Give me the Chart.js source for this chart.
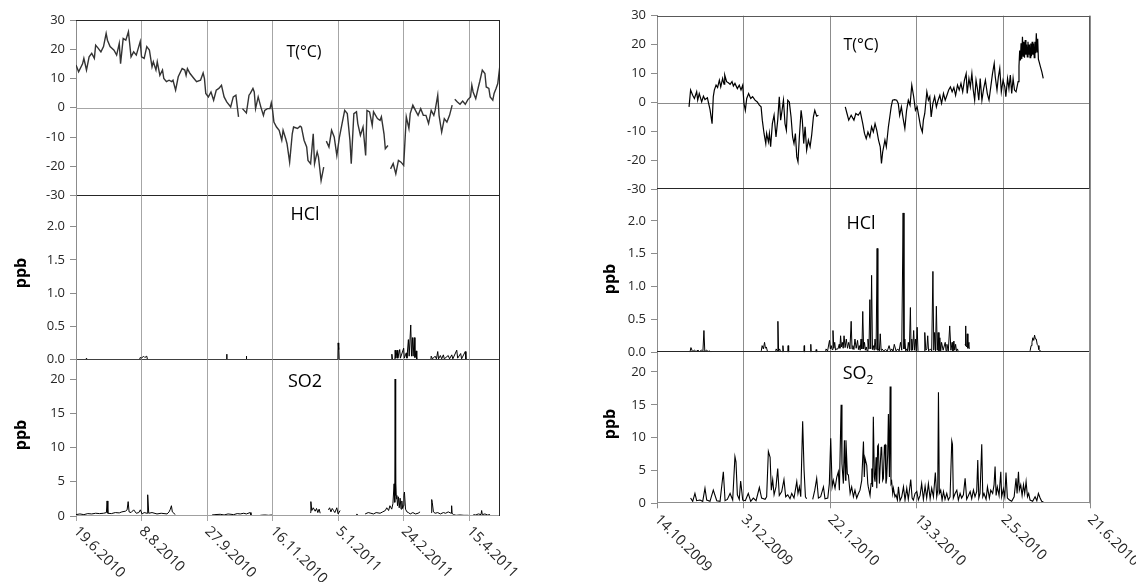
<!DOCTYPE html>
<html><head><meta charset="utf-8">
<script src="https://cdn.jsdelivr.net/npm/chart.js@4.4.0/dist/chart.umd.min.js"></script>
<style>
html,body{margin:0;padding:0;background:#fff;}
#wrap{position:relative;width:1136px;height:582px;overflow:hidden;background:#fff;}
canvas{position:absolute;}
</style></head><body><div id="wrap"></div>
<script>
// ---------------- DATA ----------------
// x values are days since the first tick date of each panel
const leftXLabels = ['19.6.2010','8.8.2010','27.9.2010','16.11.2010','5.1.2011','24.2.2011','15.4.2011'];
const leftXTicks = [0,50,100,150,200,250,300];
const rightXLabels = ['14.10.2009','3.12.2009','22.1.2010','13.3.2010','2.5.2010','21.6.2010'];
const rightXTicks = [0,50,100,150,200,250];
const tTicks = [-30,-20,-10,0,10,20,30];
const hclTicks = [0,0.5,1,1.5,2];
const so2Ticks = [0,5,10,15,20];

const leftT = [[0,14.6],[2,12.3],[5,15],[6,16.9],[8,12.9],[10,17.4],[12,18.6],[14,16.9],[15,21.4],[17,20.3],
[19,19.1],[21,20.9],[23,25.4],[24,23.1],[26,20.9],[29,19.7],[31,18],[33,22],[34,15.1],[36,23.7],
[38,23.1],[40,26],[42,17.4],[44,19.1],[46,18],[49,22.6],[50,17.4],[52,16.9],[54,20.9],[56,19.7],
[58,14],[59,15.7],[61,12.9],[62,15.7],[64,11.1],[66,12.9],[67,10],[69,8.9],[71,9.4],[73,8.9],
[74,9.4],[76,6],[78,10.6],[81,13.4],[83,12.9],[84,11.1],[85,13.4],[87,11.7],[90,10],[92,8.9],
[95,9.4],[97,11.9],[98,10],[99,4.9],[101,3.7],[103,5.4],[105,2.6],[107,6],[109,6.6],[111,7.7],
[113,3.7],[115,2],[118,0.3],[120,3.7],[122,4.3],[124,-3.1],[125.5,null],
[127,-0.3],[130,-1.8],[132,4.3],[133,4.9],[135,6.6],[136,5.4],[137,-0.3],[139,3.7],[141,0.3],[143,-2.6],
[144,-0.9],[146,-0.3],[148,-0.3],[149,1.7],[150,-0.9],[151,-4.9],[153,-6.6],[155,-7.7],[157,-11.1],[158,-7.7],
[160,-10.6],[161,-12.3],[163,-18.6],[165,-8.9],[166,-6.6],[169,-7.1],[171,-6.3],[172,-6.6],[174,-11.1],[176,-13.4],
[177,-18],[179,-19.1],[181,-8.9],[182,-19.1],[184,-15.1],[185,-16.9],[187,-24.9],[189,-20.3],[190,null],
[191,-11.4],[193,-13.4],[195,-7.7],[197,-10],[199,-16.3],[201,-10],[203,-5.4],[205,-0.9],[207,-2],[209,-11.1],
[210,-19.1],[212,-2],[214,-1.4],[215,-5.4],[217,-9.4],[219,-6.6],[221,-16.3],[222,-0.9],[224,-1.4],[226,-6],
[227,-1.4],[230,-3.7],[232,-4.3],[233,-3.1],[235,-8.9],[236,-14],[238,-12.9],[239,null],
[240,-20.9],[242,-19.1],[244,-22.6],[246,-18],[248,-18.6],[250,-19.7],[252,-3.1],[254,-7.1],[255,-2],[257,0.9],
[259,-0.9],[261,-2.6],[263,-0.3],[265,-2.6],[267,-2.6],[269,-5.4],[271,-0.9],[273,-2.6],[274,-0.9],[276,4.3],
[277,-2.6],[279,-8.3],[281,-3.7],[283,-4.9],[285,-2.6],[287,0.9],[288,null],
[289,2.9],[291,2],[293,1.2],[295,2.3],[297,1.2],[299,2.8],[301,3.7],[302,7.7],[303,5.4],[305,3.1],
[307,7.1],[308,8.9],[310,12.9],[312,11.7],[313,7.1],[315,6.6],[316,3.7],[318,2.6],[319,4.9],[320.5,6.6],[321.8,8.3],[323.3,14]];

const leftHCl = [[7.5,0],[8,0.02],[8.5,0],[10,null],
[48.5,0],[49,0.03],[50,0.02],[51.5,0.05],[52.5,0.03],[54,0.05],[54.5,0],[56,null],
[114.8,0],[115,0.08],[115.2,0],[117,null],[129.8,0],[130,0.05],[130.2,0],[132,null],
[199.8,0],[200,0.25],[200.3,0.15],[200.6,0.2],[200.8,0],[203,null],
[240.8,0],[241,0.08],[241.5,0],[243.3,0],[243.5,0.14],[244,0.02],[245,0.14],[245.5,0.02],[247,0.15],[247.5,0.02],
[250,0.17],[250.5,0.02],[252,0.1],[252.5,0.02],[253.6,0.3],[254.2,0.05],[255.4,0.52],[256,0.05],[256.7,0.33],[257.2,0.05],
[258,0.33],[258.6,0.03],[259.5,0.13],[260,0],[265,null],
[270.8,0],[271,0.05],[272,0.01],[274,0.05],[275,0.01],[276,0.12],[276.6,0.01],[278,0.06],[279,0.01],[280.3,0.07],
[281,0.01],[284,0.06],[285,0.01],[286.7,0.07],[287.5,0.01],[290.5,0.14],[291.2,0.02],[293.5,0.09],[294.2,0.01],[297,0.12],[297.5,0]];

const leftSO2 = [[0,0.2],[3,0.3],[6,0.2],[9,0.35],[12,0.3],[15,0.4],[18,0.35],[21,0.4],[23.2,0.5],[23.7,2.2],
[24.3,0.4],[27,0.35],[30,0.5],[33,0.45],[35,0.6],[37.7,0.7],[39,0.9],[39.8,2.1],[40.5,0.6],[42,0.5],
[44,0.9],[46,0.4],[47.9,0.5],[49.1,0.9],[50.4,0.3],[52,0.5],[54.2,0.4],[54.7,3.1],[55.5,0.4],[58,0.5],
[61.8,0.3],[65,0.4],[69.5,0.3],[71,0.6],[72,1.0],[72.8,1.5],[73.5,0.6],[75.8,0.2],[90,null],
[103.8,0.15],[106,0.2],[110,0.25],[113,0.15],[116,0.3],[120.3,0.2],[123,0.35],[125.3,0.3],[128,0.4],[130,0.3],[132.9,0.5],[133.5,0.15],[137,null],
[140.6,0.1],[144,0.15],[147,0.1],[149.5,0.15],[160,null],
[178.7,0.5],[179.2,2.1],[179.9,0.8],[181,1.2],[182.5,0.7],[183.5,1.1],[184.5,0.5],[185.5,1.0],[186.3,0.4],[189,null],
[192.6,0.9],[193.5,1.2],[194.5,0.6],[195.5,1.1],[196.5,0.8],[197.5,0.5],[199,1.2],[200,0.3],[201.5,0.8],[205,null],
[213.7,0.1],[214.3,0.3],[214.8,0.1],[218,null],
[220.6,0.3],[223,0.5],[225,0.4],[227,0.3],[229,0.5],[232,0.4],[234,0.6],[236,0.8],[237.1,1.2],[238.5,0.8],
[239.5,1.5],[240.9,1.0],[241.8,1.8],[242.7,4.7],[243.2,2],[243.5,20.0],[243.8,3],[244,4.7],[244.4,2.5],[244.8,3.0],
[245.3,1.5],[246,2.8],[246.6,1.2],[247.3,2.6],[248,1.0],[248.6,2.2],[249.2,1.1],[249.8,1.5],[250.2,3.0],[250.6,3.5],
[251.4,1.0],[252.5,0.6],[253.6,0.5],[255,0.3],[257,0.5],[259,0.3],[261,0.4],[262.5,0.6],[266,null],
[270.9,0.5],[271.4,2.4],[271.8,2.0],[272.7,0.6],[274,0.4],[276,0.5],[278,0.3],[280.3,0.5],[282,0.4],[284,0.6],
[286.2,0.4],[286.6,1.5],[286.9,0.4],[288,0.2],[290,0.1],[293,0.15],[296,0.1],[299.4,0.1],[301,null],
[303.2,0.2],[305,0.15],[307,0.3],[309,0.2],[309.5,0.8],[310,0.2],[312,0.3],[314,0.15],[315.9,0.2]];

const rightT = [[18.5,-1.5],[19.4,4.3],[20.6,2.5],[21.6,1.4],[22.9,3.7],[23.5,0.8],[24.4,3.1],[25.8,0.2],[26.8,2.2],[27.7,1.0],
[29.1,1.6],[29.8,-0.3],[30.6,-2.4],[31.8,-7.3],[32.5,2.0],[33.1,4.3],[34.1,6.0],[35.0,5.2],[36.0,7.7],[36.8,5.4],
[37.9,8.3],[38.7,6.3],[39.1,9.5],[40.2,7.2],[41.2,6.8],[42.2,6.3],[43.3,7.2],[44.1,5.7],[45.0,6.6],[46.4,4.8],
[47.5,6.0],[48.5,4.3],[49.5,6.0],[50.2,-0.3],[51.0,-2.7],[51.8,1.4],[52.9,3.1],[54.1,1.4],[55.2,2.0],[56.6,0.8],
[57.9,0.2],[59.1,-0.9],[60.1,-1.5],[60.8,-6.1],[61.8,-10.7],[62.8,-14.2],[63.3,-10.7],[64.3,-13.6],[64.9,-10.7],[65.6,-15.3],
[66.6,-7.3],[67.6,-4.4],[68.7,-11.9],[69.7,-6.1],[70.6,2.0],[71.4,-6.1],[72.2,-2.7],[73.0,0.8],[73.9,-7.3],[74.7,-9.6],
[75.5,0.8],[76.4,0.2],[77.4,-5.0],[78.3,-11.9],[79.1,-14.2],[79.9,-10.7],[80.7,-18.8],[81.4,-20.5],[82.2,-11.9],[83.2,-2.7],
[83.9,-6.1],[84.7,-14.2],[85.5,-8.4],[86.4,-16.5],[87.4,-13.0],[88.4,-15.3],[89.3,-11.3],[90.3,-5.0],[91.1,-2.7],[92.2,-4.7],[93.2,-4.4],[100,null],
[108.7,-1.5],[109.7,-3.8],[110.7,-6.1],[112.1,-4.4],[113.7,-6.1],[114.8,-3.8],[116.2,-4.4],[117.4,-3.2],[118.8,-7.3],[119.8,-10.7],
[120.8,-12.5],[121.8,-10.2],[122.9,-11.9],[123.9,-8.4],[124.9,-10.2],[125.9,-7.3],[126.9,-9.6],[127.9,-13.0],[128.9,-15.3],[129.6,-21.1],
[130.3,-17.1],[131.6,-13.0],[132.4,-15.3],[133.6,-8.4],[134.4,-5.0],[135.2,-1.5],[136.0,0.8],[137.2,1.0],[138.4,0.8],[139.3,-0.3],
[140.1,-4.4],[141.1,-1.5],[142.1,-5.5],[143.1,-9.0],[144.1,-2.7],[145.1,0.8],[146.1,-0.9],[147.1,6.0],[148.2,2.0],[149.2,-2.7],
[150.2,-1.5],[151.2,-5.0],[152.2,-8.4],[153.2,-10.2],[153.8,-6.1],[154.6,-3.8],[155.8,3.7],[156.7,0.8],[157.5,2.0],[158.3,-5.0],
[159.3,-0.3],[160.3,2.0],[161.3,-1.5],[162.3,0.8],[163.3,2.5],[164.3,-0.3],[165.4,3.1],[166.4,0.8],[167.4,2.5],[168.4,4.3],
[169.4,5.4],[170.4,3.7],[171.4,5.2],[172.4,2.5],[173.5,6.0],[174.5,4.3],[175.5,6.6],[176.5,3.7],[177.5,7.7],[178.5,10.0],
[179.1,3.1],[180.1,8.3],[180.9,5.4],[181.8,10.0],[182.6,4.3],[183.4,0.8],[184.2,7.7],[185.0,4.8],[185.8,0.8],[186.6,8.3],
[187.6,0.8],[188.6,4.8],[189.6,7.7],[190.7,3.1],[191.7,0.8],[192.7,5.4],[193.7,10.0],[194.7,13.5],[195.3,8.9],[196.3,4.3],
[197.1,8.9],[197.9,11.8],[198.8,3.7],[199.8,7.7],[200.8,5.4],[201.4,2.0],[202.4,8.3],[203.2,4.8],[204.0,9.5],[204.8,3.1],
[205.6,8.3],[206.4,4.3],[207.3,3.7],[208.5,7.2],[209.0,12.5],[209.4,18.0],[209.8,14.5],[210.2,20.5],[210.6,15.0],[211.0,22.7],
[211.4,16.0],[211.8,21.0],[212.2,15.5],[212.6,21.6],[213.0,16.5],[213.4,20.0],[213.8,15.8],[214.2,21.0],[214.6,16.5],[215.0,20.0],
[215.4,15.5],[215.8,20.4],[216.2,16.0],[216.6,21.0],[217.0,16.5],[217.4,20.4],[217.8,15.5],[218.2,21.0],[218.6,17.0],[219.0,23.9],
[219.4,17.5],[219.8,22.0],[220.2,15.0],[220.6,14.1],[221.4,12.3],[222.2,10.6],[223.0,8.3]];

const rightHCl = [[19.0,0],[19.6,0.07],[20.5,0.01],[21.7,0.03],[22.5,0.01],[23.7,0.03],[24.5,0.01],[25.7,0.03],[26.5,0.01],[27.1,0.33],
[27.6,0.01],[28.7,0.03],[29.5,0.01],[30.4,0.02],[31,0],[45,null],
[60.2,0.02],[60.7,0.1],[61.4,0.05],[62.1,0.15],[62.6,0.06],[63.1,0.08],[63.8,0.01],[66,null],
[68.5,0.01],[68.8,0.05],[69.5,0.02],[69.8,0.47],[70.2,0.02],[70.8,0.05],[71.3,0.01],[72,null],
[72.5,0],[72.7,0.1],[73,0],[74,null],[75.5,0],[75.7,0.1],[76,0],[80,null],[84.8,0],[85,0.1],[85.2,0],[87,null],
[88.6,0],[88.8,0.12],[89,0],[90,null],[91.7,0],[91.9,0.04],[92.2,0],[95,null],
[97.4,0.01],[97.6,0.05],[98.5,0.02],[99.6,0.18],[100.1,0.05],[100.6,0.1],[101.1,0.04],[101.6,0.33],[102.1,0.06],[102.6,0.15],
[103.1,0.03],[103.6,0.05],[104.5,0.05],[105.2,0.12],[105.6,0.06],[106,0.25],[106.5,0.08],[107,0.15],[107.5,0.06],[108,0.25],
[108.6,0.07],[109.3,0.2],[110,0.06],[110.7,0.15],[111.4,0.05],[112.1,0.47],[112.6,0.05],[113.1,0.1],[113.7,0.04],[114.3,0.2],
[115,0.06],[115.8,0.18],[116.3,0.04],[116.8,0.1],[117.3,0.03],[117.8,0.2],[118.3,0.05],[118.8,0.62],[119.3,0.05],[119.8,0.15],
[120.3,0.03],[120.8,0.08],[121.3,0.02],[121.8,0.2],[122.4,0.05],[122.9,0.8],[123.4,0.05],[123.9,1.17],[124.4,0.04],[124.9,0.1],
[125.4,0.03],[125.9,0.2],[126.5,0.04],[127.1,1.58],[127.5,0.03],[127.9,0.05],[128.4,0.02],[128.9,0.28],[129.4,0.03],[129.9,0.05],
[130.9,0.02],[131.9,0.04],[133,0.02],[134,0.1],[134.8,0.02],[135.6,0.05],[136.3,0.01],[137,0.12],[138,0.02],[139,0.05],
[139.8,0.02],[140.6,0.15],[141.3,0.03],[142.1,2.12],[142.6,0.05],[143.1,0.2],[143.6,0.02],[144.1,0.05],[144.6,0.02],[145.1,0.15],
[145.7,0.02],[146.3,0.68],[146.7,0.03],[147.1,0.2],[147.6,0.03],[148.2,0.33],[148.7,0.03],[149.2,0.2],[149.7,0.02],[150.2,0.38],
[150.7,0.02],[151.2,0.02],[153,null],
[154.3,0.01],[154.6,0.3],[155.2,0.03],[155.8,0.05],[156.3,0.25],[156.8,0.02],[157.9,0.05],[158.6,0.02],[159.3,1.23],[159.8,0.03],
[160.3,0.3],[160.8,0.02],[161.3,0.7],[161.8,0.03],[162.3,0.3],[162.8,0.02],[163.3,0.22],[163.8,0.02],[164.3,0.15],[165.2,0.03],
[166.4,0.15],[166.9,0.02],[167.4,0.12],[168.2,0.02],[169,0.4],[169.7,0.03],[170.4,0.15],[170.9,0.02],[171.4,0.17],[171.9,0.03],
[172.4,0.12],[172.9,0.02],[173.5,0.05],[174,0],[176,null],
[177.9,0.12],[178.1,0.4],[178.4,0.1],[178.8,0.08],[179.1,0.28],[179.5,0.06],[180.1,0.15],[180.3,0.05],[190,null],
[215.4,0.02],[216,0.1],[216.5,0.15],[217,0.22],[217.5,0.18],[218,0.26],[218.5,0.2],[219,0.2],[219.5,0.12],[220,0.1],
[220.5,0.04],[221.2,0.02],[222,0.01]];

const rightSO2 = [[19.4,0.8],[20.6,0.3],[21.9,1.5],[22.9,0.4],[24.8,0.5],[26.4,0.3],[27.7,2.3],[28.7,0.5],[30.6,0.3],[32.5,2.0],
[34.5,0.4],[36.4,0.3],[38.3,4.8],[39.3,0.4],[40.6,0.6],[42.2,1.5],[43.7,0.5],[45.0,7.1],[45.6,6.3],[46.4,1.3],
[47.5,0.6],[48.3,3.4],[49.5,0.5],[51.0,0.4],[52.7,1.5],[54.1,0.3],[55.6,0.8],[57.2,0.4],[59.1,2.4],[60.4,0.8],
[62.4,0.6],[63.3,1.0],[64.3,7.9],[65.3,7.0],[66.0,2.0],[66.8,3.6],[67.6,1.3],[68.7,2.5],[69.7,5.3],[70.6,1.2],
[72.0,1.8],[73.3,3.6],[74.3,1.0],[75.5,1.3],[76.8,0.7],[77.8,1.5],[79.1,0.8],[80.7,3.3],[81.4,1.5],[82.2,2.5],
[83.0,1.0],[84.1,12.5],[84.9,5.1],[85.7,1.0],[86.4,0.7],[88,null],
[89.9,0.6],[91.1,2.0],[92.2,3.8],[93.2,0.8],[94.5,1.0],[96.1,2.5],[97.0,0.7],[98.6,0.8],[99.5,3.0],[100.3,9.9],
[101.1,2.5],[101.8,3.5],[102.8,2.3],[103.8,4.0],[104.7,4.8],[105.3,2.0],[106.3,15.0],[106.8,6.0],[107.6,3.0],[108.2,9.6],
[108.8,3.5],[109.1,9.6],[109.9,4.5],[110.5,4.3],[111.5,1.5],[112.4,2.5],[113.4,1.0],[114.3,2.0],[115.3,0.8],[116.3,1.5],
[117.2,2.0],[118.2,3.5],[119.2,9.4],[119.7,4.0],[120.1,6.9],[121.1,5.8],[121.7,3.0],[122.0,2.5],[123.0,1.2],[123.6,3.0],
[124.0,5.3],[124.5,2.5],[124.9,13.2],[125.5,4.0],[125.9,3.3],[126.5,7.0],[126.9,2.3],[127.4,8.7],[127.8,8.9],[128.4,3.0],
[128.8,5.3],[129.4,8.5],[129.7,8.6],[130.3,3.5],[130.7,3.8],[131.3,8.8],[131.7,8.9],[132.2,3.0],[132.6,3.8],[133.2,7.5],
[133.6,13.6],[134.2,4.0],[134.6,17.8],[135.1,3.0],[135.5,3.3],[136.1,1.5],[136.5,2.3],[137.4,1.0],[138.0,1.3],[138.8,0.5],
[139.4,2.5],[140.3,0.4],[141.3,1.0],[142.3,2.5],[143.2,0.5],[144.2,2.3],[145.1,0.6],[146.5,3.6],[147.3,0.8],[148.0,0.5],
[149.0,1.5],[150.0,1.8],[150.9,0.5],[151.9,1.2],[152.8,3.0],[153.8,0.6],[154.8,2.6],[155.7,0.8],[156.7,3.0],[157.7,0.7],
[158.6,2.3],[159.6,1.0],[160.7,4.7],[161.5,1.0],[162.1,2.0],[162.5,16.9],[163.0,1.5],[163.8,2.0],[164.6,0.5],[165.4,1.8],
[166.3,0.6],[167.3,1.5],[168.2,0.5],[169.2,1.0],[170.2,9.5],[170.6,9.0],[171.1,0.8],[172.1,1.5],[173.1,2.0],[174.0,0.5],
[175.0,1.5],[175.9,0.8],[176.9,1.3],[177.9,3.8],[178.8,0.6],[179.8,1.2],[180.8,1.8],[181.7,0.7],[182.7,2.0],[183.6,1.0],
[184.6,1.8],[185.2,6.6],[185.8,0.8],[186.5,1.5],[187.5,9.0],[188.1,1.0],[188.8,1.5],[190.0,0.6],[190.8,2.5],[191.9,0.8],
[192.7,2.0],[193.8,1.5],[194.6,2.8],[195.2,5.6],[195.8,1.2],[196.5,2.5],[197.5,1.2],[198.5,4.8],[199.0,1.0],[200.0,2.2],
[200.8,1.0],[201.5,4.7],[202.3,0.8],[203.5,0.5],[204.8,0.3],[206.2,1.0],[207.3,3.8],[207.9,1.5],[208.7,4.8],[209.2,2.0],
[210.0,2.8],[210.8,1.2],[211.6,2.8],[212.3,1.5],[213.1,3.3],[213.9,1.0],[214.6,1.5],[215.4,0.5],[216.9,0.3],[218.3,1.0],
[219.3,0.4],[220.2,1.5],[221.2,0.8],[222.1,0.3],[223.1,0.2]];

// ---------------- RENDERING ----------------
const FONT = "'Open Sans', 'Liberation Sans', sans-serif";
const TXT = '#262626';
const wrap = document.getElementById('wrap');
const pts = a => a.map(p => ({x: p[0], y: p[1]}));

function build(c) {
  const cv = document.createElement('canvas');
  cv.width = c.w; cv.height = c.h;
  Object.assign(cv.style, {left: c.left + 'px', top: c.top + 'px', width: c.w + 'px', height: c.h + 'px'});
  wrap.appendChild(cv);
  const extras = {
    id: 'extras',
    beforeDatasetsDraw(chart) {
      if (!c.frame.zero) return;
      const ctx = chart.ctx, a = chart.chartArea;
      const y = Math.round(chart.scales.y.getPixelForValue(0)) + 0.5;
      ctx.save(); ctx.strokeStyle = c.frame.zero; ctx.lineWidth = 1;
      ctx.beginPath(); ctx.moveTo(a.left, y); ctx.lineTo(a.right, y); ctx.stroke(); ctx.restore();
    },
    afterDraw(chart) {
      const ctx = chart.ctx, a = chart.chartArea, f = c.frame;
      ctx.save(); ctx.lineWidth = 1;
      const ln = (x1, y1, x2, y2, col) => { ctx.strokeStyle = col; ctx.beginPath(); ctx.moveTo(x1, y1); ctx.lineTo(x2, y2); ctx.stroke(); };
      const T = Math.round(a.top) + 0.5, B = Math.round(a.bottom) - 0.5, R = Math.round(a.right) - 0.5;
      if (f.top) ln(a.left, T, a.right, T, f.top);
      if (f.bottom) ln(a.left, B, a.right, B, f.bottom);
      if (f.right) ln(R, a.top, R, a.bottom, f.right);
      (c.texts || []).forEach(t => {
        ctx.save();
        ctx.fillStyle = '#000';
        ctx.font = (t.bold ? 'bold ' : '') + t.size + 'px ' + FONT;
        ctx.translate(t.x - c.left, t.y - c.top);
        if (t.rot) ctx.rotate(t.rot);
        ctx.textBaseline = 'middle';
        if (t.sub) {
          const w1 = ctx.measureText(t.t).width;
          ctx.font = Math.round(t.size * 0.65) + 'px ' + FONT;
          const w2 = ctx.measureText(t.sub).width;
          ctx.font = t.size + 'px ' + FONT;
          ctx.textAlign = 'left';
          const x0 = -(w1 + w2) / 2;
          ctx.fillText(t.t, x0, 0);
          ctx.font = Math.round(t.size * 0.65) + 'px ' + FONT;
          ctx.fillText(t.sub, x0 + w1, t.size * 0.38);
        } else {
          ctx.textAlign = 'center';
          ctx.fillText(t.t, 0, 0);
        }
        ctx.restore();
      });
      if (c.xLabels) {
        const xs = chart.scales.x;
        ctx.fillStyle = TXT;
        ctx.font = '14.5px ' + FONT;
        ctx.textAlign = 'left'; ctx.textBaseline = 'middle';
        c.xLabels.forEach((lab, i) => {
          const px = xs.getPixelForValue(c.xticks[i]);
          ctx.save(); ctx.translate(px, a.bottom + c.labOff); ctx.rotate(Math.PI / 4);
          ctx.fillText(lab, 0, 0); ctx.restore();
        });
      }
      ctx.restore();
    }
  };
  return new Chart(cv, {
    type: 'line',
    data: {datasets: [{data: pts(c.data), borderColor: c.color, borderWidth: c.lw, pointRadius: 0, fill: false, tension: 0, spanGaps: false}]},
    options: {
      responsive: false, animation: false, devicePixelRatio: 1, events: [],
      layout: {padding: {left: 0, top: c.pt, right: c.pr, bottom: c.pb}},
      plugins: {legend: {display: false}, tooltip: {enabled: false}},
      scales: {
        x: {type: 'linear', min: 0, max: c.xmax,
          afterBuildTicks: s => { s.ticks = c.xticks.map(v => ({value: v})); },
          ticks: {display: false},
          grid: {color: c.grid, lineWidth: 1, drawTicks: true, tickLength: 5},
          border: {display: false},
          afterFit: s => { s.height = 0; }},
        y: {type: 'linear', min: c.ymin, max: c.ymax,
          afterBuildTicks: s => { s.ticks = c.yticks.map(v => ({value: v})); },
          ticks: {font: {family: FONT, size: 13}, color: TXT, padding: 5, callback: c.fmt},
          grid: {drawOnChartArea: false, drawTicks: true, tickLength: 6, color: '#8c8c8c'},
          border: {display: true, color: '#8c8c8c'},
          afterFit: s => { s.width = c.yw; }}
      }
    },
    plugins: [extras]
  });
}

const fT = v => String(v), fH = v => v.toFixed(1), fS = v => String(v);
const LG = '#a6a6a6', RG = '#8c8c8c';

// Left panel
build({left: 0, top: 0, w: 520, h: 210, pt: 20, pr: 20, pb: 14.5, yw: 76, xmax: 323.5, xticks: leftXTicks, grid: LG,
  ymin: -30, ymax: 30, yticks: tTicks, fmt: fT, data: leftT, color: '#333', lw: 1.4,
  frame: {top: '#262626', right: '#262626', bottom: '#262626', zero: LG},
  texts: [{t: 'T(°C)', x: 304, y: 52, size: 16}]});
build({left: 0, top: 180, w: 520, h: 195, pt: 15.5, pr: 20, pb: 15.5, yw: 76, xmax: 323.5, xticks: leftXTicks, grid: LG,
  ymin: 0, ymax: 2.47, yticks: hclTicks, fmt: fH, data: leftHCl, color: '#000', lw: 1,
  frame: {right: '#262626', bottom: '#404040'},
  texts: [{t: 'HCl', x: 305, y: 215, size: 18}, {t: 'ppb', x: 21, y: 273, size: 16, bold: true, rot: -Math.PI / 2}]});
build({left: 0, top: 340, w: 560, h: 242, pt: 19.5, pr: 60, pb: 66, yw: 76, xmax: 323.5, xticks: leftXTicks, grid: LG,
  ymin: 0, ymax: 22.85, yticks: so2Ticks, fmt: fS, data: leftSO2, color: '#000', lw: 1,
  frame: {right: '#262626', bottom: '#a0a0a0'},
  texts: [{t: 'SO2', x: 305, y: 382, size: 18}, {t: 'ppb', x: 21, y: 435, size: 16, bold: true, rot: -Math.PI / 2}],
  xLabels: leftXLabels, labOff: 13});

// Right panel
build({left: 580, top: 0, w: 556, h: 205, pt: 15.7, pr: 46, pb: 15.7, yw: 77, xmax: 250, xticks: rightXTicks, grid: RG,
  ymin: -30, ymax: 30, yticks: tTicks, fmt: fT, data: rightT, color: '#000', lw: 1.2,
  frame: {top: '#595959', right: '#595959', bottom: '#262626', zero: RG},
  texts: [{t: 'T(°C)', x: 861, y: 45, size: 16}]});
build({left: 580, top: 175, w: 556, h: 190, pt: 14.3, pr: 46, pb: 12.7, yw: 77, xmax: 250, xticks: rightXTicks, grid: RG,
  ymin: 0, ymax: 2.48, yticks: hclTicks, fmt: fH, data: rightHCl, color: '#000', lw: 1,
  frame: {right: RG, bottom: '#262626'},
  texts: [{t: 'HCl', x: 861, y: 224, size: 18}, {t: 'ppb', x: 610, y: 279, size: 16, bold: true, rot: -Math.PI / 2}]});
build({left: 580, top: 335, w: 556, h: 247, pt: 17.3, pr: 46, pb: 78.7, yw: 77, xmax: 250, xticks: rightXTicks, grid: RG,
  ymin: 0, ymax: 23, yticks: so2Ticks, fmt: fS, data: rightSO2, color: '#000', lw: 1.1,
  frame: {right: RG, bottom: RG},
  texts: [{t: 'SO', sub: '2', x: 858, y: 374, size: 18}, {t: 'ppb', x: 610, y: 424, size: 16, bold: true, rot: -Math.PI / 2}],
  xLabels: rightXLabels, labOff: 14});
</script>
</body></html>
